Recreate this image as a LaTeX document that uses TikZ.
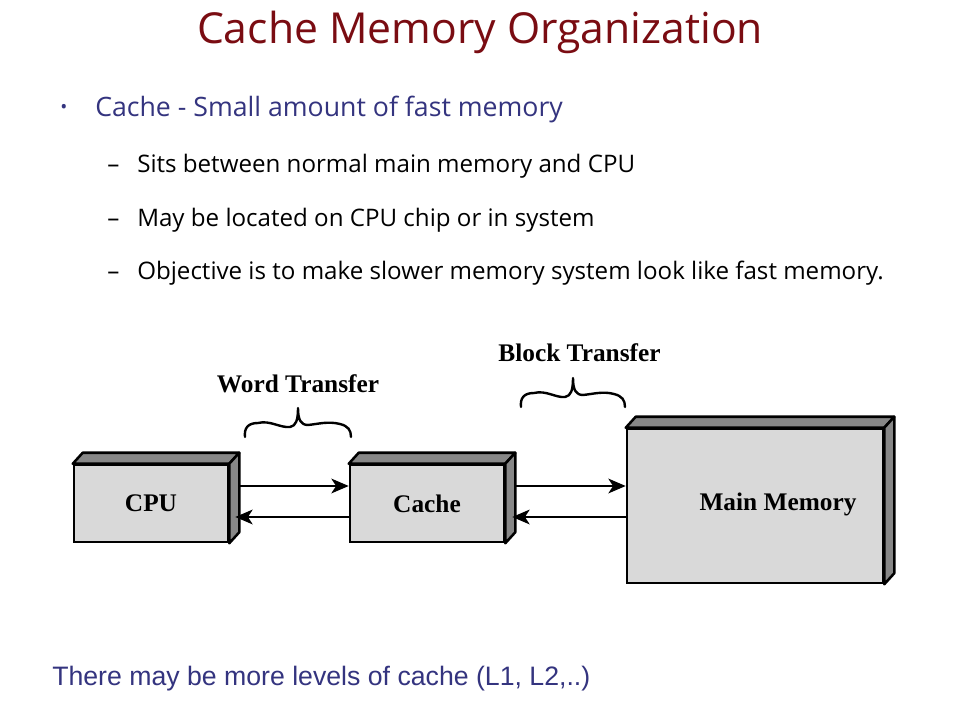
\documentclass[tikz,border=0pt]{standalone}
\usepackage{fontspec}
\setmainfont{Liberation Serif}
\newfontfamily\comicf{Open Sans}
\newfontfamily\arialf{Liberation Sans}
\usetikzlibrary{calc,arrows.meta}
\definecolor{titlered}{HTML}{7A0C12}
\definecolor{slateblue}{HTML}{34347F}
\definecolor{facegray}{HTML}{D9D9D9}
\definecolor{sidegray}{HTML}{878787}
\tikzset{
  boxface/.style={draw=black, line width=1.9pt, fill=facegray, inner sep=0pt,
    font=\bfseries\fontsize{19}{20}\selectfont},
  sideface/.style={draw=black, line width=1.9pt, fill=sidegray, line join=round},
  arr/.style={line width=1.7pt, -{Stealth[length=13pt, width=11pt, inset=3.5pt]}},
  bracepath/.style={line width=1.8pt, line cap=round, line join=round},
  difflabel/.style={font=\bfseries\fontsize{19}{20}\selectfont, inner sep=0pt},
  subitem/.style={font=\comicf\fontsize{18.1}{20}\selectfont, anchor=base west, inner sep=0pt},
}
\begin{document}
\begin{tikzpicture}[x=0.75pt, y=-0.75pt]
\useasboundingbox (0,0) rectangle (960,720);
\fill[white] (0,0) rectangle (960,720);

% title and bullets
\node[font=\comicf\fontsize{32}{36}\selectfont, text=titlered, anchor=base, inner sep=0pt] (title) at (480,44) {Cache Memory Organization};
\node[font=\comicf\fontsize{14}{16}\selectfont, text=slateblue, inner sep=0pt] (bul) at (64,109) {•};
\node[font=\comicf\fontsize{20}{24}\selectfont, text=slateblue, anchor=base west, inner sep=0pt] (b1) at (95,117) {Cache - Small amount of fast memory};
\node[subitem] (d1) at (107,173) {–};
\node[subitem] (s1) at (137,173) {Sits between normal main memory and CPU};
\node[subitem] (d2) at (107,227) {–};
\node[subitem] (s2) at (137,227) {May be located on CPU chip or in system};
\node[subitem] (d3) at (107,280) {–};
\node[subitem] (s3) at (137,280) {Objective is to make slower memory system look like fast memory.};

% boxes (sizes in pt: px * 0.75)
\node[boxface, minimum width=115.5pt, minimum height=57.75pt] (cpu) at (151,503.5) {CPU};
\draw[sideface] (cpu.north west) -- ++(10,-11) -- ($(cpu.north east)+(10,-11)$) -- (cpu.north east) -- cycle;
\draw[sideface] (cpu.north east) -- ++(10,-11) -- ($(cpu.south east)+(10,-11)$) -- (cpu.south east) -- cycle;

\node[boxface, minimum width=115.5pt, minimum height=57.75pt] (cache) at (427,503.5) {Cache};
\draw[sideface] (cache.north west) -- ++(10,-11) -- ($(cache.north east)+(10,-11)$) -- (cache.north east) -- cycle;
\draw[sideface] (cache.north east) -- ++(10,-11) -- ($(cache.south east)+(10,-11)$) -- (cache.south east) -- cycle;

\node[boxface, minimum width=192pt, minimum height=115.5pt] (mem) at (755,506) {};
\draw[sideface] (mem.north west) -- ++(10,-11) -- ($(mem.north east)+(10,-11)$) -- (mem.north east) -- cycle;
\draw[sideface] (mem.north east) -- ++(10,-11) -- ($(mem.south east)+(10,-11)$) -- (mem.south east) -- cycle;
\node[difflabel, anchor=base] (memlabel) at (778,510) {Main Memory};

% arrows
\coordinate (c1) at ($(cpu.east)+(9,-17.5)$);
\coordinate (c2) at ($(cpu.east)+(6,13.5)$);
\draw[arr] (c1) -- (c1 -| cache.west);
\draw[arr] (c2 -| cache.west) -- (c2);
\coordinate (k1) at ($(cache.east)+(9,-17.5)$);
\coordinate (k2) at ($(cache.east)+(7,13.5)$);
\draw[arr] (k1) -- (k1 -| mem.west);
\draw[arr] (k2 -| mem.west) -- (k2);

% braces
\draw[bracepath] (245,437) .. controls (244,428) and (248,423) .. (258,423)
  .. controls (270,420) and (280,428) .. (290,427)
  .. controls (296,426) and (298,420) .. (298,408)
  .. controls (298,420) and (301,425) .. (308,425)
  .. controls (318,424) and (328,421) .. (340,424)
  .. controls (348,426) and (351,430) .. (351,437);
\draw[bracepath] (521,407) .. controls (520,398) and (524,393) .. (534,393)
  .. controls (546,390) and (556,398) .. (565,397)
  .. controls (571,396) and (573,390) .. (573,378)
  .. controls (573,390) and (576,395) .. (583,395)
  .. controls (593,394) and (603,391) .. (614,394)
  .. controls (622,396) and (625,400) .. (625,407);
\node[difflabel, anchor=base] (wt) at (298,392) {Word Transfer};
\node[difflabel, anchor=base] (bt) at (579.5,361) {Block Transfer};

% bottom note
\node[font=\arialf\fontsize{20}{22}\selectfont, text=slateblue, anchor=base west, inner sep=0pt] (note) at (52,685) {There may be more levels of cache (L1, L2,..)};
\end{tikzpicture}
\end{document}
